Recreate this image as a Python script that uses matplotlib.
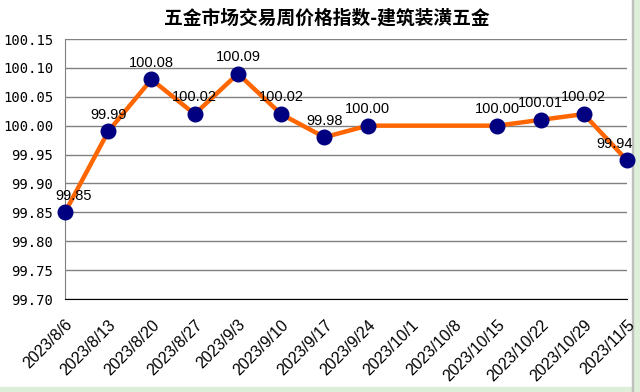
import numpy as np
import matplotlib.pyplot as plt
from matplotlib.patches import Rectangle

# -------------------------------------
# data
# -------------------------------------
dates = ["2023/8/6", "2023/8/13", "2023/8/20", "2023/8/27", "2023/9/3",
         "2023/9/10", "2023/9/17", "2023/9/24", "2023/10/1", "2023/10/8",
         "2023/10/15", "2023/10/22", "2023/10/29", "2023/11/5"]
index_vals = [99.85, 99.99, 100.08, 100.02, 100.09, 100.02, 99.98, 100.00,
              np.nan, np.nan, 100.00, 100.01, 100.02, 99.94]
y_ticks = [99.70, 99.75, 99.80, 99.85, 99.90, 99.95, 100.00, 100.05, 100.10, 100.15]
title = "五金市场交易周价格指数-建筑装潢五金"

# -------------------------------------
# figure
# -------------------------------------
fig = plt.figure(figsize=(6.4, 3.92), dpi=100)
ax = fig.add_axes([65 / 640, 93 / 392, 562 / 640, 260 / 392])
ax.set_zorder(2)

x = np.arange(len(dates))
y = np.array(index_vals)
ok = ~np.isnan(y)

ax.plot(x[ok], y[ok], color="#FF6600", lw=3.2, zorder=3, clip_on=False)
ax.plot(x[ok], y[ok], "o", color="#000080", ms=10.5, zorder=4, clip_on=False)

for i in x[ok]:
    dx = 0
    if i == 0:
        dx = 6
    elif i == len(x) - 1:
        dx = -9
    ax.annotate(f"{y[i]:.2f}", (i, y[i]), xytext=(dx, 7), textcoords="offset points",
                ha="center", va="bottom", fontsize=10.5, family="Liberation Sans",
                color="black", zorder=5)

ax.set_xlim(0, len(dates) - 1)
ax.set_ylim(y_ticks[0], y_ticks[-1])
ax.set_yticks(y_ticks)
ax.set_yticklabels([f"{v:.2f}" for v in y_ticks], family="DejaVu Sans Mono", fontsize=10)
ax.set_xticks(x)
ax.set_xticklabels(dates, rotation=45, ha="right", va="top", rotation_mode="anchor",
                   family="Liberation Sans", fontsize=11.5)
ax.tick_params(length=0)
ax.tick_params(axis="y", pad=8.5)
ax.tick_params(axis="x", pad=13)

ax.yaxis.grid(True, color="#808080", lw=1)
ax.set_axisbelow(True)
for s in ["top", "right"]:
    ax.spines[s].set_visible(False)
ax.spines["left"].set_color("#808080")
ax.spines["bottom"].set_color("black")

fig.text(327 / 640, 1 - 18 / 392, title, ha="center", va="center", fontsize=13.5,
         fontweight="bold", family=["Noto Sans CJK SC", "DejaVu Sans"])

# light green strip at bottom and grey right border (spreadsheet edge)
fig.patches.append(Rectangle((0, 0), 1, 5 / 392, transform=fig.transFigure,
                             color="#DDEFD9", zorder=-1))
fig.patches.append(Rectangle((633 / 640, 0), 7 / 640, 1, transform=fig.transFigure,
                             color="#DDEFD9", zorder=-1))
fig.patches.append(Rectangle((632 / 640, 0), 1 / 640, 1, transform=fig.transFigure,
                             color="#C0C0C0", zorder=-1))

fig.savefig("out.png", dpi=100)
